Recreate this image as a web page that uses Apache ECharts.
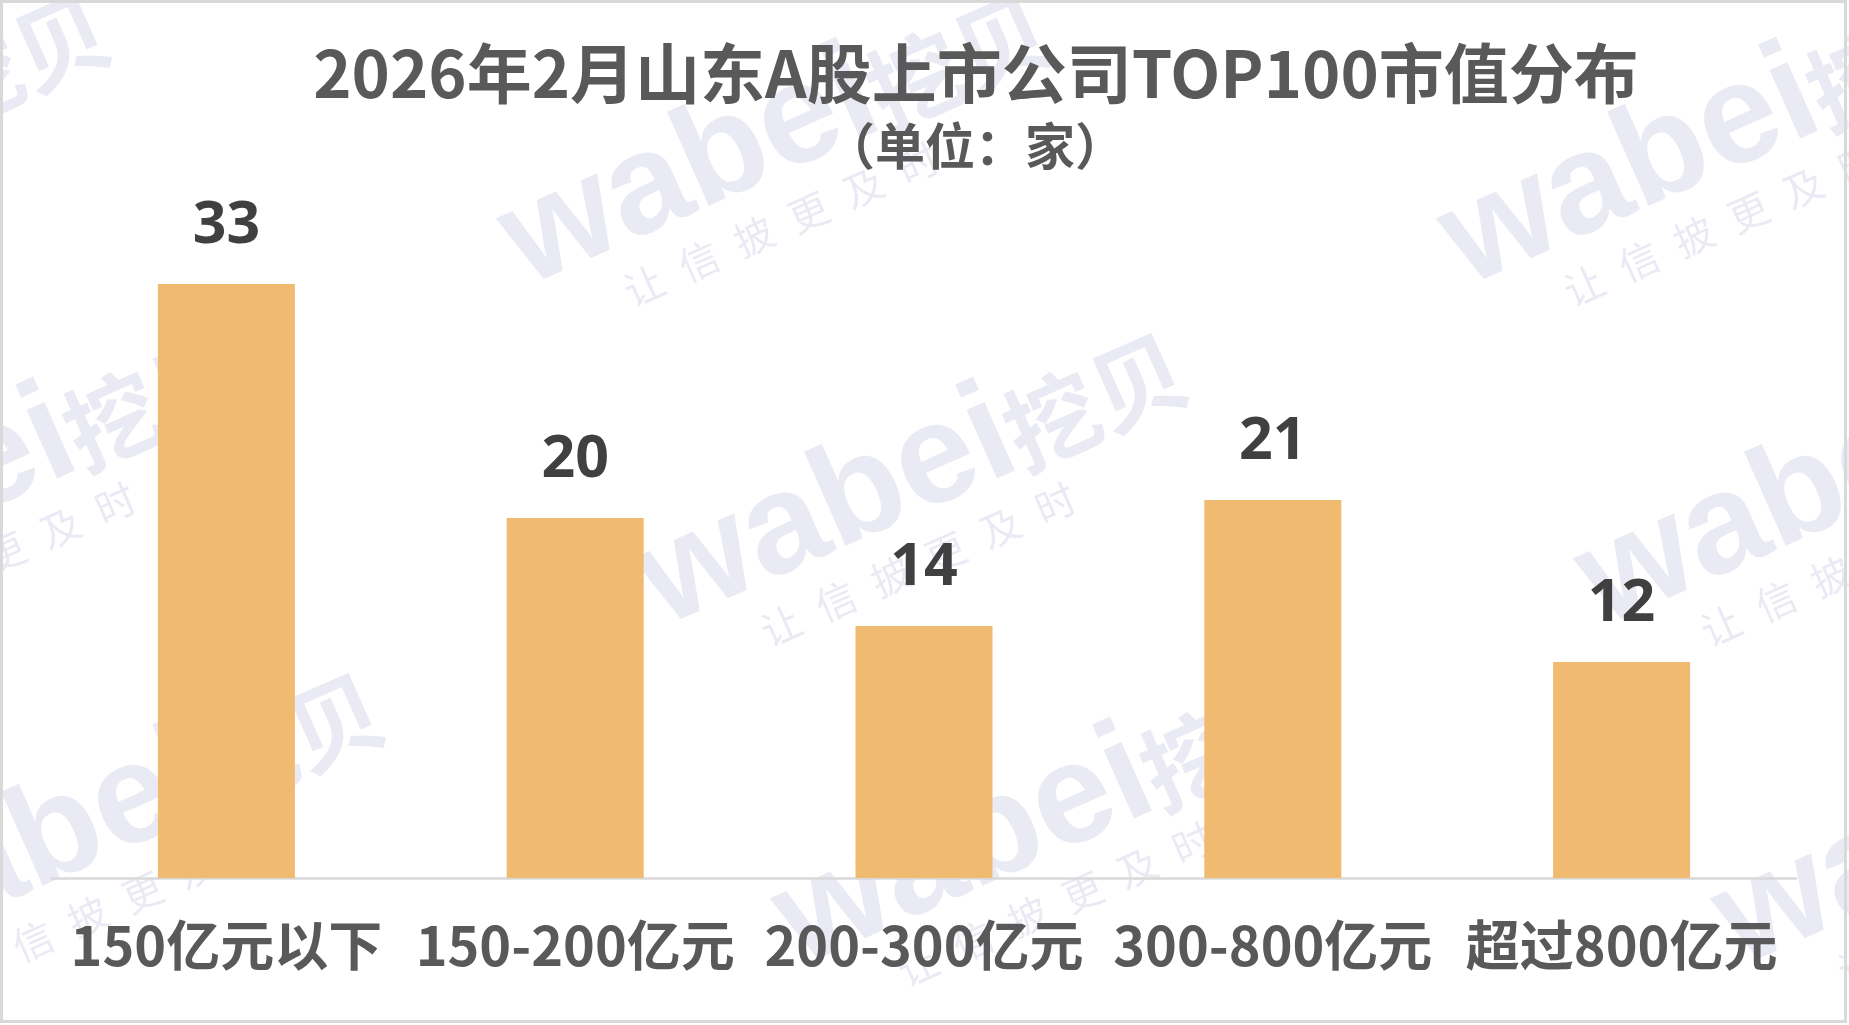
<!DOCTYPE html>
<html>
<head>
<meta charset="utf-8">
<script src="https://cdn.jsdelivr.net/npm/echarts@6/dist/echarts.min.js"></script>
<style>
html,body{margin:0;padding:0;background:#fff;}
#chart{width:1849px;height:1025px;}
</style>
</head>
<body>
<div id="chart"></div>
<script>
const titleText = '2026年2月山东A股上市公司TOP100市值分布';
const subtitleText = '（单位：家）';
const categories = ['150亿元以下', '150-200亿元', '200-300亿元', '300-800亿元', '超过800亿元'];
const values = [33, 20, 14, 21, 12];
const watermarkMain = 'wabei';
const watermarkCn = '挖贝';
const watermarkSub = ['让', '信', '披', '更', '及', '时'];

const chart = echarts.init(document.getElementById('chart'), null, {renderer: 'canvas'});

const wmAnchors = [[-412, 290], [528, 290], [1468, 290], [-275, 630], [665, 630], [1605, 630], [-138, 970], [802, 970], [1742, 970]];
const wmColor = 'rgba(60,60,160,0.11)';
function wmText(t, x, y, size, family, weight) {
  return {type: 'text', style: {text: t, x: x, y: y + size * 0.2, font: weight + ' ' + size + 'px ' + family, fill: wmColor, align: 'left', verticalAlign: 'bottom'}};
}
const wmGraphics = wmAnchors.map(function (p) {
  const children = [
    wmText(watermarkMain, 0, 0, 142, '"Liberation Sans", Arial, sans-serif', 'bold'),
    wmText(watermarkCn, 392, -6, 94, '"Noto Sans CJK SC", sans-serif', 'bold')
  ];
  watermarkSub.forEach(function (ch, i) {
    children.push(wmText(ch, 88 + i * 60, 55, 40, '"Noto Sans CJK SC", sans-serif', 'normal'));
  });
  return {type: 'group', x: p[0], y: p[1], rotation: 24 * Math.PI / 180, silent: true, z: 3, children: children};
});

const option = {
  backgroundColor: '#ffffff',
  animation: false,
  title: [
    {text: titleText, left: 971, top: 36, textAlign: 'center',
     textStyle: {fontFamily: '"Noto Sans CJK SC", sans-serif', fontWeight: 'bold', fontSize: 65, color: '#595959'}},
    {text: subtitleText, left: 970, top: 116, textAlign: 'center',
     textStyle: {fontFamily: '"Noto Sans CJK SC", sans-serif', fontWeight: 'bold', fontSize: 50, color: '#595959'}}
  ],
  grid: {left: 52, right: 53, top: 248, bottom: 147, containLabel: false},
  xAxis: {
    type: 'category',
    data: categories,
    axisLine: {show: true, lineStyle: {color: '#D9D9D9', width: 2.5}},
    axisTick: {show: false},
    axisLabel: {margin: 40, interval: 0, fontFamily: '"Noto Sans CJK SC", sans-serif', fontWeight: 'bold', fontSize: 54, color: '#595959'}
  },
  yAxis: {
    type: 'value', min: 0, max: 35, show: false,
    splitLine: {show: false}
  },
  series: [{
    type: 'bar',
    data: values,
    barWidth: 137,
    itemStyle: {color: '#F0BB70'},
    label: {show: true, position: 'top', distance: 28, fontFamily: '"Open Sans", sans-serif', fontWeight: 'bold', fontSize: 59, color: '#404040'}
  }],
  graphic: wmGraphics.concat([
    {type: 'rect', silent: true, z: 10, shape: {x: 1.5, y: 1.5, width: 1844, height: 1020}, style: {fill: 'none', stroke: '#D9D9D9', lineWidth: 3}}
  ])
};
chart.setOption(option);
</script>
</body>
</html>
